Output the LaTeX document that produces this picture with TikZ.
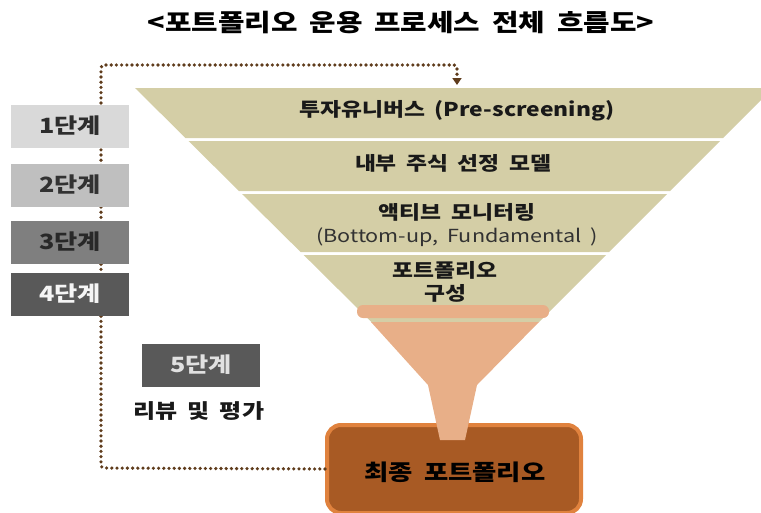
\documentclass[tikz,border=0pt]{standalone}
\usepackage{fontspec}
\setmainfont{Noto Sans CJK KR}[FakeStretch=1.2, WordSpace=1.8]
\usetikzlibrary{arrows.meta}
\definecolor{tan}{RGB}{212,206,166}
\definecolor{peach}{RGB}{232,175,136}
\definecolor{boxedge}{RGB}{224,130,62}
\definecolor{boxfill}{RGB}{168,90,36}
\definecolor{dotbrown}{RGB}{95,60,28}
\definecolor{txtdark}{RGB}{25,25,25}
\definecolor{gA}{RGB}{217,217,217}
\definecolor{gB}{RGB}{191,191,191}
\definecolor{gC}{RGB}{127,127,127}
\definecolor{gD}{RGB}{89,89,89}
\tikzset{
  stagebox/.style={minimum width=118pt, minimum height=43pt, inner sep=0pt,
    font=\fontsize{21}{24}\selectfont\bfseries},
  bandtxt/.style={font=\fontsize{19}{23}\selectfont\bfseries, text=txtdark, align=center, inner sep=0pt},
  dots/.style={draw=dotbrown, line width=3.6pt, line cap=round, dash pattern=on 0pt off 5.2pt, rounded corners=3pt},
  band/.style={fill=tan},
}
\begin{document}
\begin{tikzpicture}[x=1pt,y=-1pt]
\useasboundingbox (0,0) rectangle (761,512);
\clip (0,0) rectangle (761,512);

% title
\node[font=\fontsize{24}{28}\selectfont\bfseries, text=black] (title) at (401,23)
  {<포트폴리오 운용 프로세스 전체 흐름도>};

% funnel bands
\fill[band] (135,88) -- (773,88) -- (723,138) -- (185.5,138) -- cycle;
\fill[band] (188.5,141) -- (720,141) -- (670,191) -- (239,191) -- cycle;
\fill[band] (242,194) -- (667,194) -- (609,252) -- (300.6,252) -- cycle;
\fill[band] (303.7,255) -- (606,255) -- (539,322) -- (371.3,322) -- cycle;
\fill[peach, rounded corners=6pt] (357,305) rectangle (549,318);

% final box
\node[draw=boxedge, line width=4pt, fill=boxfill, rounded corners=14pt,
  minimum width=254pt, minimum height=88pt, inner sep=0pt] (final) at (454,469) {};
% lower funnel + neck
\fill[peach] (371,322) -- (539,322) -- (477,385) -- (465,440) -- (440,440) -- (428,385) -- cycle;
\node[font=\fontsize{22}{26}\selectfont\bfseries, text=black] (finaltxt) at (455,472) {최종 포트폴리오};

% band texts
\node[bandtxt] (b1) at (457,111) {투자유니버스 (Pre-screening)};
\node[bandtxt] (b2) at (453,163) {내부 주식 선정 모델};
\node[bandtxt] (b3) at (457,225) {액티브 모니터링\\{\fontsize{18}{23}\selectfont\mdseries\color[RGB]{50,50,50}(Bottom-up, Fundamental )}};
\node[bandtxt] (b4) at (445,282) {포트폴리오\\구성};

% dotted feedback loop
\coordinate (topin) at (457,85);
\draw[dots, -{Triangle[width=9pt,length=7pt]}] (final.west) -- (101,468) -- (101,65) -- (457,65) -- (topin);

% stage boxes
\node[stagebox, fill=gA, text={rgb,255:red,45;green,45;blue,45}] (s1) at (70,126) {1단계};
\node[stagebox, fill=gB, text={rgb,255:red,50;green,50;blue,50}] (s2) at (70,185) {2단계};
\node[stagebox, fill=gC, text={rgb,255:red,40;green,40;blue,40}] (s3) at (70,242) {3단계};
\node[stagebox, fill=gD, text={rgb,255:red,245;green,245;blue,245}] (s4) at (70,294) {4단계};
\node[stagebox, fill=gD, text={rgb,255:red,225;green,225;blue,225}] (s5) at (201,365) {5단계};
\node[font=\fontsize{20}{24}\selectfont\bfseries, text=txtdark] (rev) at (199,411) {리뷰 및 평가};
\end{tikzpicture}
\end{document}
